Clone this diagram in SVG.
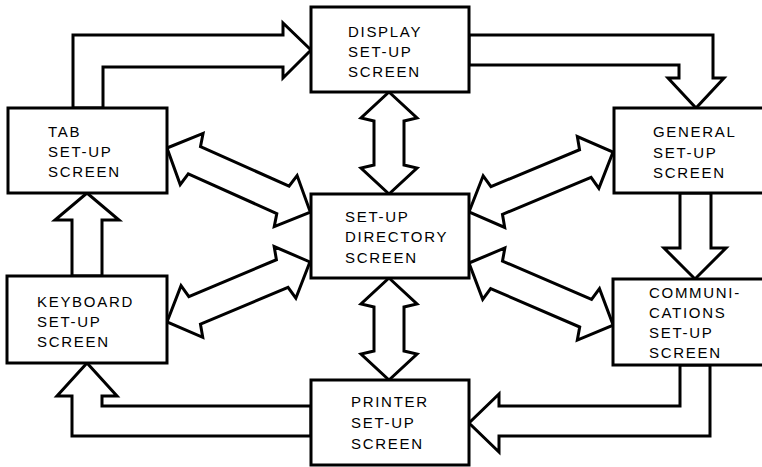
<svg xmlns="http://www.w3.org/2000/svg" width="762" height="467" viewBox="0 0 762 467">
<style>
.box{fill:#fff;stroke:#000;stroke-width:3}
.arr{fill:#fff;stroke:#000;stroke-width:3;stroke-linejoin:miter;stroke-miterlimit:10}
.t{font-family:"Liberation Sans",Arial,sans-serif;font-size:15px;letter-spacing:1.7px;fill:#000}
</style>
<rect width="762" height="467" fill="#fff"/>
<g id="connectors">
<polygon class="arr" points="73,108 73,35 283,35 283,23 311,50 283,78 283,67 103,67 103,108"/>
<polygon class="arr" points="469,35 713,35 713,78 724,78 696,108 668,78 679,78 679,65 469,65"/>
<polygon class="arr" points="680,193 680,248 664,248 695,279 726,248 711,248 711,193"/>
<polygon class="arr" points="680,365 680,406 499,406 499,394 469,423 499,452 499,436 710,436 710,365"/>
<polygon class="arr" points="311,406 102,406 102,396 117,396 87,363 57,396 72,396 72,436 311,436"/>
<polygon class="arr" points="72,276 72,220 55,220 87,193 119,220 102,220 102,276"/>
<polygon class="arr" transform="translate(389,92) rotate(90)" points="0,0 26,-28 29,-15 73,-15 76,-28 102,0 76,28 73,15 29,15 26,28"/>
<polygon class="arr" transform="translate(389,278) rotate(90)" points="0,0 26,-28 29,-15 73,-15 76,-28 102,0 76,28 73,15 29,15 26,28"/>
<polygon class="arr" transform="translate(167,148) rotate(24.1)" points="0,0 27,-28 30,-15 127,-15 130,-28 157,0 130,28 127,15 30,15 27,28"/>
<polygon class="arr" transform="translate(167,322) rotate(-22.8)" points="0,0 27,-28 30,-15 125,-15 128,-28 155,0 128,28 125,15 30,15 27,28"/>
<polygon class="arr" transform="translate(469,212) rotate(-22.6)" points="0,0 27,-28 30,-15 126,-15 129,-28 156,0 129,28 126,15 30,15 27,28"/>
<polygon class="arr" transform="translate(469,263) rotate(23.3)" points="0,0 27,-28 30,-15 127,-15 130,-28 157,0 130,28 127,15 30,15 27,28"/>
</g>
<g id="display"><rect class="box" x="311" y="7" width="158" height="85"/>
<text class="t" x="348" y="37">DISPLAY</text><text class="t" x="348" y="57">SET-UP</text><text class="t" x="348" y="77">SCREEN</text></g>
<g id="tab"><rect class="box" x="8" y="108" width="159" height="85"/>
<text class="t" x="48" y="137">TAB</text><text class="t" x="48" y="157">SET-UP</text><text class="t" x="48" y="177">SCREEN</text></g>
<g id="general"><rect class="box" x="614" y="108" width="160" height="85"/>
<text class="t" x="653" y="137">GENERAL</text><text class="t" x="653" y="158">SET-UP</text><text class="t" x="653" y="178">SCREEN</text></g>
<g id="directory"><rect class="box" x="311" y="194" width="158" height="84"/>
<text class="t" x="345" y="222">SET-UP</text><text class="t" x="345" y="242">DIRECTORY</text><text class="t" x="345" y="263">SCREEN</text></g>
<g id="keyboard"><rect class="box" x="7" y="276" width="160" height="87"/>
<text class="t" x="37" y="307">KEYBOARD</text><text class="t" x="37" y="327">SET-UP</text><text class="t" x="37" y="347">SCREEN</text></g>
<g id="communications"><rect class="box" x="613" y="279" width="160" height="86"/>
<text class="t" x="649" y="298">COMMUNI-</text><text class="t" x="649" y="318">CATIONS</text><text class="t" x="649" y="338">SET-UP</text><text class="t" x="649" y="358">SCREEN</text></g>
<g id="printer"><rect class="box" x="311" y="380" width="158" height="85"/>
<text class="t" x="351" y="407">PRINTER</text><text class="t" x="351" y="428">SET-UP</text><text class="t" x="351" y="449">SCREEN</text></g>
</svg>
